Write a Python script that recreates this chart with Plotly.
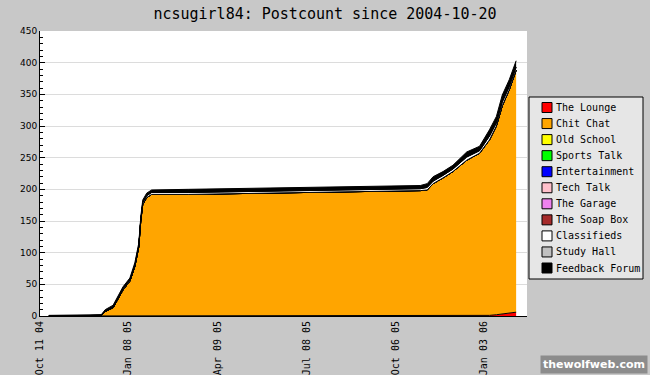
import plotly.graph_objects as go

dates = ["2004-10-20", "2004-11-16", "2004-11-17", "2004-12-12", "2004-12-16", "2004-12-21",
         "2004-12-24", "2005-01-03", "2005-01-10", "2005-01-15", "2005-01-19", "2005-01-21",
         "2005-01-23", "2005-01-27", "2005-02-01", "2005-03-10", "2005-06-01", "2005-08-15",
         "2005-10-11", "2005-10-31", "2005-11-07", "2005-11-13", "2005-11-23", "2005-12-03",
         "2005-12-17", "2005-12-30", "2006-01-09", "2006-01-16", "2006-01-22", "2006-01-29",
         "2006-02-05"]

lounge = [0, 0, 0, 0, 0, 0, 0, 0, 0, 0, 0, 0, 0, 0, 0, 0, 0, 0, 0, 0,
          1, 1, 1, 1, 1, 1, 1, 2, 3, 5, 6]
chit_chat = [0, 0, 1, 1, 7, 10, 13, 41, 55, 78, 109, 150, 176, 187, 192, 192, 194, 195,
             197, 198, 198, 208, 217, 227, 245, 256, 277, 298, 329, 352, 382]
classifieds = [0, 0, 0, 0, 1, 1, 1, 2, 2, 2, 2, 2, 3, 3, 3, 3, 3, 3, 3, 3,
               4, 4, 4, 4, 5, 4, 6, 5, 6, 5, 5]
feedback = [1, 1, 1, 1, 2, 3, 3, 3, 3, 4, 4, 4, 4, 4, 4, 5, 5, 5, 5, 5,
            6, 7, 6, 6, 8, 7, 10, 10, 11, 11, 10]
zeros = [0] * len(dates)

forums = ["The Lounge", "Chit Chat", "Old School", "Sports Talk", "Entertainment",
          "Tech Talk", "The Garage", "The Soap Box", "Classifieds", "Study Hall",
          "Feedback Forum"]
colors = ["#ff0000", "#ffa500", "#ffff00", "#00ff00", "#0000ff", "#ffc0cb",
          "#ee82ee", "#a52a2a", "#ffffff", "#c0c0c0", "#000000"]
series = {
    "The Lounge": lounge,
    "Chit Chat": chit_chat,
    "Classifieds": classifieds,
    "Feedback Forum": feedback,
}

tick_vals = ["2004-10-11", "2005-01-08", "2005-04-09", "2005-07-08", "2005-10-06", "2006-01-03"]
tick_text = ["Oct 11 04", "Jan 08 05", "Apr 09 05", "Jul 08 05", "Oct 06 05", "Jan 03 06"]

W, H = 650, 375
ML, MR, MT, MB = 40, 123, 31, 59
PW, PH = W - ML - MR, H - MT - MB


def px(x):
    return (x - ML) / PW


def py(y):
    return (H - MB - y) / PH


fig = go.Figure()
for name, col in zip(forums, colors):
    fig.add_trace(go.Scatter(
        x=dates, y=series.get(name, zeros), name=name, mode="lines",
        stackgroup="one", fillcolor=col, showlegend=False,
        line=dict(color="#000000", width=1),
    ))

mono = "DejaVu Sans Mono"

# legend box drawn by hand (square swatches like the original)
shapes = [dict(type="rect", xref="paper", yref="paper",
               x0=px(529), x1=px(643), y0=py(279), y1=py(97),
               fillcolor="#e6e6e6", line=dict(color="#000000", width=1), layer="above")]
annotations = []
for i, (name, col) in enumerate(zip(forums, colors)):
    cy = 107.5 + i * 16.05
    shapes.append(dict(type="rect", xref="paper", yref="paper",
                       x0=px(542), x1=px(552), y0=py(cy + 5), y1=py(cy - 5),
                       fillcolor=col, line=dict(color="#000000", width=1), layer="above"))
    annotations.append(dict(text=name, xref="paper", yref="paper", x=px(553.5), y=py(cy),
                            xanchor="left", yanchor="middle", showarrow=False,
                            font=dict(family=mono, size=10, color="#000000")))

annotations.append(dict(text="<b>thewolfweb.com</b>", xref="paper", yref="paper",
                        x=px(648), y=py(364), xanchor="right", yanchor="middle", showarrow=False,
                        bgcolor="#8c8c8c", borderpad=2,
                        font=dict(family="DejaVu Sans", size=11, color="#ffffff")))

fig.update_layout(
    width=W, height=H,
    margin=dict(l=ML, r=MR, t=MT, b=MB, autoexpand=False),
    paper_bgcolor="#c8c8c8", plot_bgcolor="#ffffff",
    title=dict(text="ncsugirl84: Postcount since 2004-10-20", x=0.5, xanchor="center",
               yref="container", y=1 - 14 / H, yanchor="middle",
               font=dict(family=mono, size=15, color="#000000")),
    showlegend=False,
    hovermode=False,
    xaxis=dict(type="date", range=["2004-10-11", "2006-02-16"],
               tickvals=tick_vals, ticktext=tick_text, tickangle=-90,
               showgrid=False, showline=True, linecolor="#000000", linewidth=1,
               zeroline=False, ticks="",
               tickfont=dict(family=mono, size=10, color="#000000")),
    yaxis=dict(range=[0, 450], dtick=50, showgrid=True, gridcolor="#dcdcdc",
               showline=True, linecolor="#000000", linewidth=1, zeroline=False,
               ticks="inside", ticklen=5, tickcolor="#000000",
               minor=dict(dtick=10, ticks="inside", ticklen=3, tickcolor="#000000", showgrid=False),
               tickfont=dict(family="DejaVu Sans", size=9, color="#000000")),
    shapes=shapes,
    annotations=annotations,
)

fig.write_html(
    "out.html",
    config={"displayModeBar": False},
    post_script="document.body.style.margin='0';document.body.style.padding='0';"
                "document.body.style.overflow='hidden';",
)
